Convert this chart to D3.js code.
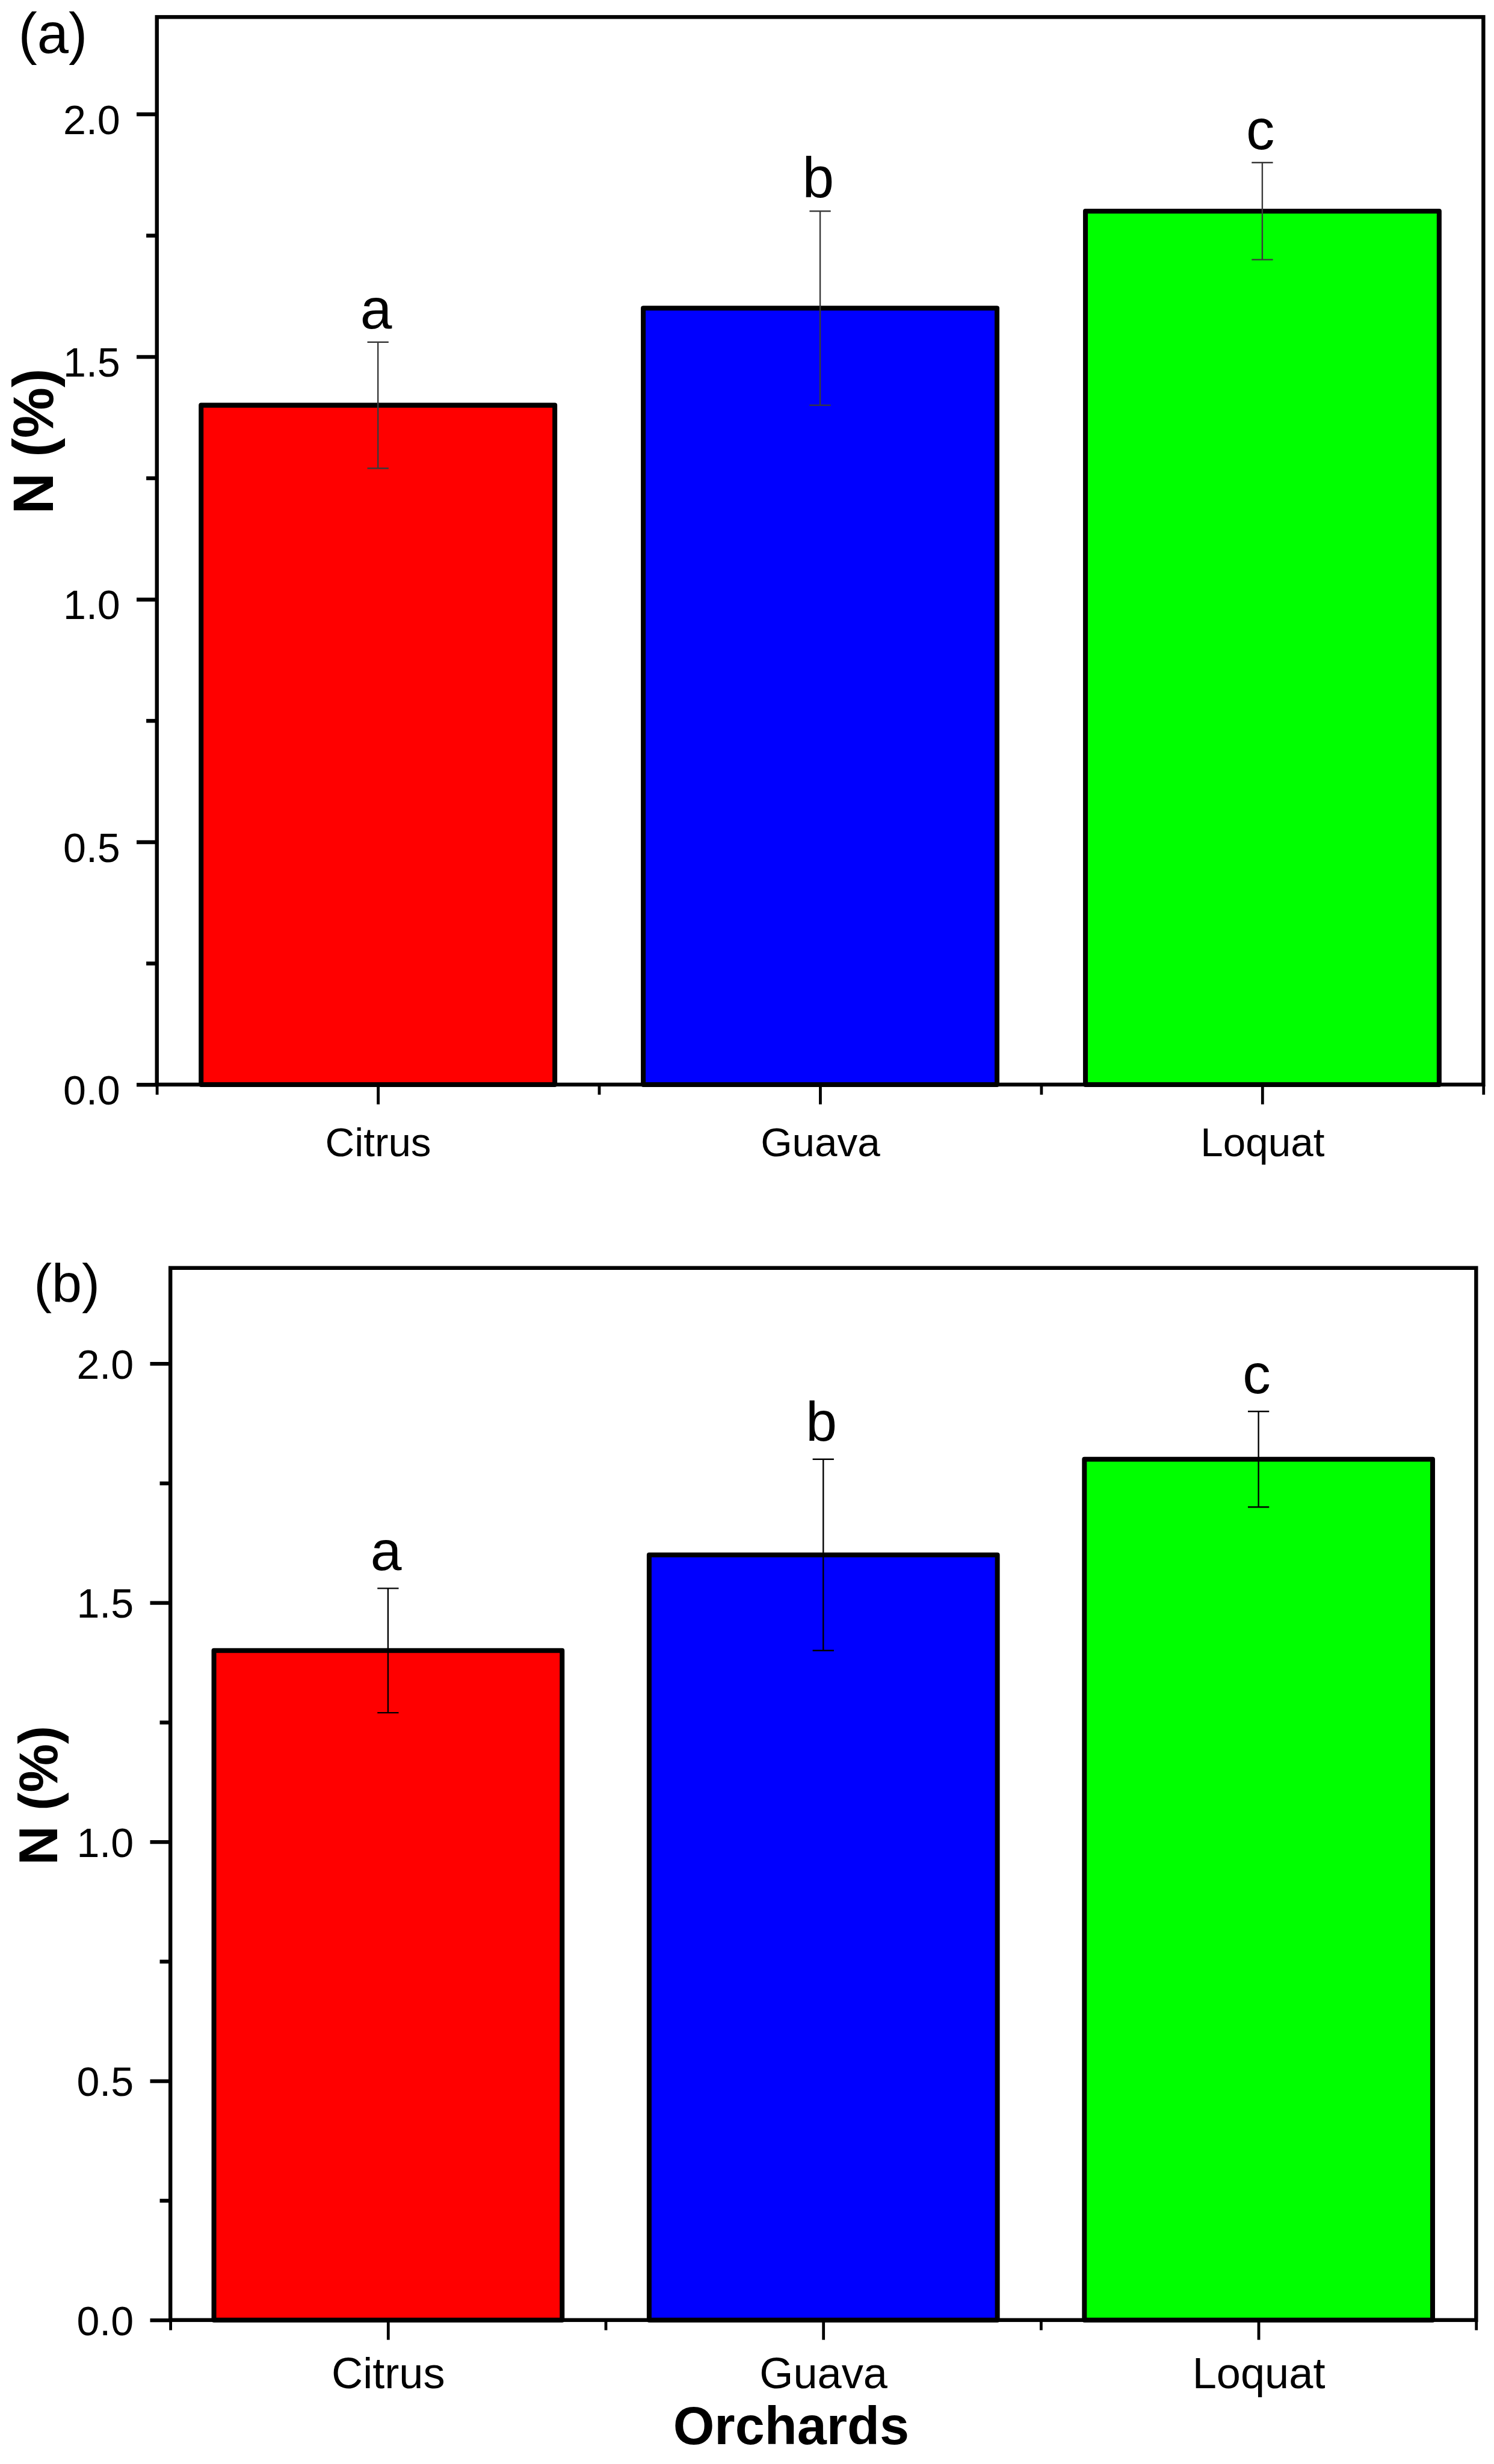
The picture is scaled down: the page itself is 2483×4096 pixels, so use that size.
<!DOCTYPE html>
<html><head><meta charset="utf-8">
<script src="https://cdn.jsdelivr.net/npm/d3@7"></script>
<style>body{margin:0;background:#fff} svg{display:block}</style>
</head><body>
<svg id="chart" width="2483" height="4096" viewBox="0 0 3095 5105"></svg>
<script>
// ---- data ----
const categories = ["Citrus", "Guava", "Loquat"];
const meansA = [1.40, 1.60, 1.80];
const errorsA = [0.13, 0.20, 0.10];
const lettersA = ["a", "b", "c"];
const meansB = [1.40, 1.60, 1.80];
const errorsB = [0.13, 0.20, 0.10];
const lettersB = ["a", "b", "c"];
const barColors = ["#ff0000", "#0000ff", "#00ff00"];
const yMajorTicks = [0, 0.5, 1.0, 1.5, 2.0];
const yMinorTicks = [0.25, 0.75, 1.25, 1.75];
const yDomain = [0, 2.2];
const panelLabels = ["(a)", "(b)"];
const yTitle = "N (%)";
const xTitle = "Orchards";

// ---- layout (reference pixel space, scaled by viewBox) ----
const FONT = "'Liberation Sans', Arial, Helvetica, sans-serif";
const panels = [
  { means: meansA, errors: errorsA, letters: lettersA, label: panelLabels[0],
    box: {l: 325, r: 3073, t: 35, b: 2247}, labelPos: [38, 109], labelSize: 117,
    titleX: 110, titleY: 914, titleSize: 118, tickDy: "0.48em", tickSize: 85,
    catSize: 84, catDy: 148, letterGap: 28, letterSize: 118, errColor: "#3a3a3a", errW: 3 },
  { means: meansB, errors: errorsB, letters: lettersB, label: panelLabels[1],
    box: {l: 353, r: 3058, t: 2627, b: 4807}, labelPos: [70, 2697], labelSize: 112,
    titleX: 119, titleY: 3720, titleSize: 113, tickDy: "0.36em", tickSize: 85,
    catSize: 90, catDy: 141, letterGap: 38, letterSize: 116, errColor: "#000", errW: 3 }
];

const svg = d3.select("#chart");
svg.append("rect").attr("width", 3095).attr("height", 5105).attr("fill", "#fff");

panels.forEach(p => {
  const g = svg.append("g");
  const x = d3.scaleLinear().domain([0.5, categories.length + 0.5]).range([p.box.l, p.box.r]);
  const y = d3.scaleLinear().domain(yDomain).range([p.box.b, p.box.t]);
  const step = x(2) - x(1);
  const bw = step * 0.8;
  const data = categories.map((c, i) => ({c, i, v: p.means[i], e: p.errors[i], l: p.letters[i], col: barColors[i]}));

  // bars
  g.selectAll("rect.bar").data(data).join("rect")
    .attr("class", "bar")
    .attr("x", d => x(d.i + 1) - bw / 2)
    .attr("width", bw)
    .attr("y", d => y(d.v))
    .attr("height", d => y(0) - y(d.v))
    .attr("fill", d => d.col)
    .attr("stroke", "#000")
    .attr("stroke-width", 10)
    .attr("stroke-linejoin", "round");

  // y axis major
  const yAxis = d3.axisLeft(y).tickValues(yMajorTicks).tickFormat(d3.format(".1f")).tickSize(42).tickPadding(34);
  const ya = g.append("g").attr("transform", `translate(${p.box.l},0)`).call(yAxis);
  ya.select(".domain").remove();
  ya.selectAll(".tick line").attr("stroke", "#000").attr("stroke-width", 8);
  ya.selectAll(".tick text").attr("font-family", FONT).attr("font-size", p.tickSize).attr("fill", "#000").attr("dy", p.tickDy);
  // y axis minor
  const yMinor = d3.axisLeft(y).tickValues(yMinorTicks).tickFormat("").tickSize(22);
  const ym = g.append("g").attr("transform", `translate(${p.box.l},0)`).call(yMinor);
  ym.select(".domain").remove();
  ym.selectAll(".tick line").attr("stroke", "#000").attr("stroke-width", 8);

  // x axis major
  const xAxis = d3.axisBottom(x).tickValues(categories.map((c, i) => i + 1)).tickFormat(v => categories[v - 1]).tickSize(41).tickPadding(0);
  const xa = g.append("g").attr("transform", `translate(0,${p.box.b})`).call(xAxis);
  xa.select(".domain").remove();
  xa.selectAll(".tick line").attr("stroke", "#000").attr("stroke-width", 6);
  xa.selectAll(".tick text").attr("font-family", FONT).attr("font-size", p.catSize).attr("fill", "#000")
    .attr("y", p.catDy).attr("dy", 0);
  // x axis minor
  const xMinor = d3.axisBottom(x).tickValues(d3.range(0, categories.length + 1).map(i => i + 0.5)).tickFormat("").tickSize(21);
  const xm = g.append("g").attr("transform", `translate(0,${p.box.b})`).call(xMinor);
  xm.select(".domain").remove();
  xm.selectAll(".tick line").attr("stroke", "#000").attr("stroke-width", 6);

  // frame
  g.append("rect")
    .attr("x", p.box.l).attr("y", p.box.t)
    .attr("width", p.box.r - p.box.l).attr("height", p.box.b - p.box.t)
    .attr("fill", "none").attr("stroke", "#000").attr("stroke-width", 8);

  // error bars
  const eg = g.append("g").attr("stroke", p.errColor).attr("stroke-width", p.errW).attr("fill", "none");
  const capW = 44;
  data.forEach(d => {
    const cx = x(d.i + 1);
    eg.append("line").attr("x1", cx).attr("x2", cx).attr("y1", y(d.v + d.e)).attr("y2", y(d.v - d.e));
    eg.append("line").attr("x1", cx - capW / 2).attr("x2", cx + capW / 2).attr("y1", y(d.v + d.e)).attr("y2", y(d.v + d.e));
    eg.append("line").attr("x1", cx - capW / 2).attr("x2", cx + capW / 2).attr("y1", y(d.v - d.e)).attr("y2", y(d.v - d.e));
  });

  // significance letters
  g.selectAll("text.sig").data(data).join("text")
    .attr("class", "sig")
    .attr("x", d => x(d.i + 1) - 4)
    .attr("y", d => y(d.v + d.e) - p.letterGap)
    .attr("text-anchor", "middle")
    .attr("font-family", FONT).attr("font-size", p.letterSize).attr("fill", "#000")
    .text(d => d.l);

  // panel label
  g.append("text").attr("x", p.labelPos[0]).attr("y", p.labelPos[1])
    .attr("font-family", FONT).attr("font-size", p.labelSize).attr("fill", "#000")
    .text(p.label);

  // y title
  g.append("text")
    .attr("transform", `translate(${p.titleX},${p.titleY}) rotate(-90)`)
    .attr("text-anchor", "middle")
    .attr("font-family", FONT).attr("font-weight", "bold").attr("font-size", p.titleSize).attr("fill", "#000")
    .text(yTitle);
});

// x title (bottom panel only)
svg.append("text")
  .attr("x", 1639).attr("y", 5064)
  .attr("text-anchor", "middle")
  .attr("font-family", FONT).attr("font-weight", "bold").attr("font-size", 110).attr("fill", "#000")
  .text(xTitle);
</script>
</body></html>
